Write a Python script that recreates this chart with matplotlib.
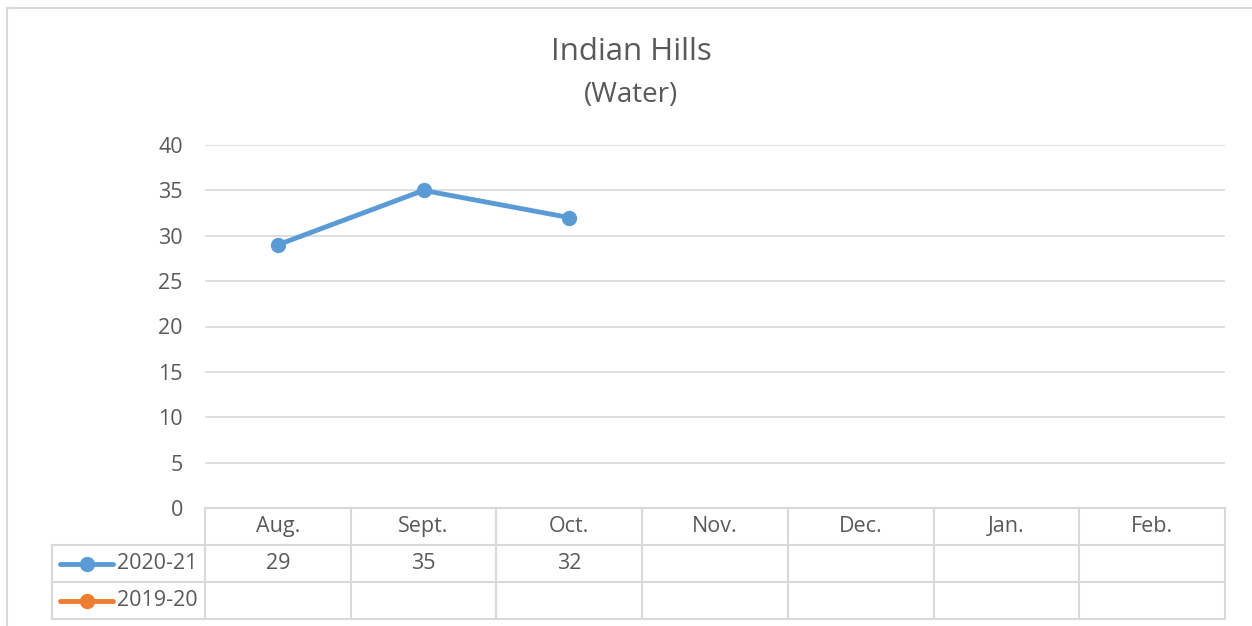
import matplotlib.pyplot as plt
from matplotlib.lines import Line2D

months = ["Aug.", "Sept.", "Oct.", "Nov.", "Dec.", "Jan.", "Feb."]
series_names = ["2020-21", "2019-20"]
water_2020 = [29, 35, 32]
water_2019 = []
series_values = [water_2020, water_2019]
series_colors = ["#5B9BD5", "#ED7D31"]
y_ticks = [0, 5, 10, 15, 20, 25, 30, 35, 40]

plt.rcParams['font.family'] = ['Open Sans', 'DejaVu Sans']
textColor = "#595959"
gridColor = "#D9D9D9"
labelSize = 15.5

W, H = 1252, 626
fig = plt.figure(figsize=(W / 100, H / 100), dpi=100)

# plot area in pixels
left, right, top, bottom = 205, 1225, 145, 508
ax = fig.add_axes([left / W, 1 - bottom / H, (right - left) / W, (bottom - top) / H])

n = len(months)
ax.set_xlim(0, n)
ax.set_ylim(0, 40)
ax.set_yticks(y_ticks)
ax.set_xticks([])
ax.tick_params(axis='y', length=0, pad=16, labelsize=labelSize, labelcolor=textColor)
for spine in ax.spines.values():
    spine.set_visible(False)
ax.grid(axis='y', color=gridColor, linewidth=1.2)
ax.set_axisbelow(True)

for vals, color in zip(series_values, series_colors):
    if vals:
        xs = [i + 0.5 for i in range(len(vals))]
        ax.plot(xs, vals, color=color, linewidth=3.5, marker='o', markersize=10,
                solid_capstyle='round', zorder=3)

# data table under the plot
rowH = 37 / (bottom - top)
legendLeft = (52 - left) / (right - left)
tableKw = dict(transform=ax.transAxes, clip_on=False, color=gridColor, linewidth=1.5)

# horizontal lines
ax.plot([0, 1], [0, 0], **tableKw)
for r in range(1, 4):
    ax.plot([legendLeft, 1], [-r * rowH, -r * rowH], **tableKw)
# vertical lines
for c in range(n + 1):
    ax.plot([c / n, c / n], [0, -3 * rowH], **tableKw)
ax.plot([legendLeft, legendLeft], [-rowH, -3 * rowH], **tableKw)

for i, m in enumerate(months):
    ax.text((i + 0.5) / n, -0.5 * rowH, m, transform=ax.transAxes, ha='center',
            va='center', fontsize=labelSize, color=textColor)

for r, (name, vals, color) in enumerate(zip(series_names, series_values, series_colors)):
    yc = -(r + 1.5) * rowH
    for i, v in enumerate(vals):
        ax.text((i + 0.5) / n, yc, str(v), transform=ax.transAxes, ha='center',
                va='center', fontsize=labelSize, color=textColor)
    keyX0 = (60 - left) / (right - left)
    keyX1 = (113 - left) / (right - left)
    ax.add_line(Line2D([keyX0, keyX1], [yc, yc], transform=ax.transAxes, clip_on=False,
                       color=color, linewidth=3.5, solid_capstyle='round'))
    ax.add_line(Line2D([(keyX0 + keyX1) / 2], [yc], transform=ax.transAxes, clip_on=False,
                       color=color, marker='o', markersize=10))
    ax.text((117 - left) / (right - left), yc, name, transform=ax.transAxes,
            ha='left', va='center', fontsize=labelSize, color=textColor)

# titles
fig.text(631 / W, 1 - 52 / H, "Indian Hills", ha='center', va='center',
         fontsize=22.5, color=textColor)
fig.text(631 / W, 1 - 95 / H, "(Water)", ha='center', va='center',
         fontsize=20, color=textColor)

# chart frame
fig.add_artist(Line2D([7 / W, 7 / W], [0, 1 - 8 / H], transform=fig.transFigure,
                      color=gridColor, linewidth=1.5))
fig.add_artist(Line2D([7 / W, 1], [1 - 8 / H, 1 - 8 / H], transform=fig.transFigure,
                      color=gridColor, linewidth=1.5))

fig.savefig("out.png", dpi=100)
